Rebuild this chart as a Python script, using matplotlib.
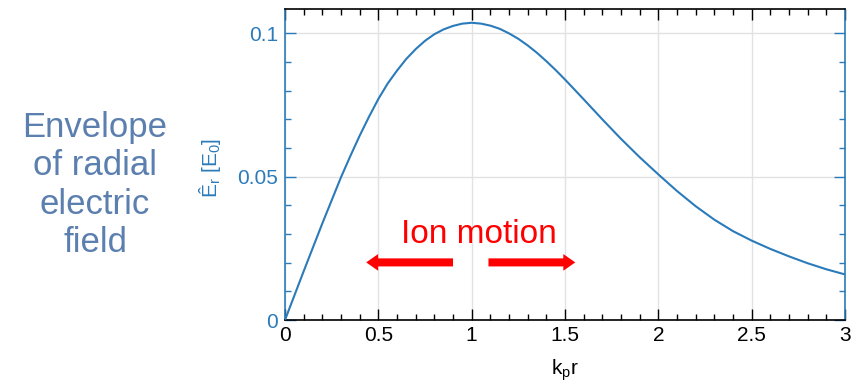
import numpy as np
import matplotlib
matplotlib.use('Agg')
import matplotlib.pyplot as plt
from matplotlib.ticker import MultipleLocator, FuncFormatter

plt.rcParams['font.family'] = ['Liberation Sans', 'DejaVu Sans']
plt.rcParams['mathtext.fontset'] = 'custom'
plt.rcParams['mathtext.rm'] = 'Liberation Sans'
plt.rcParams['mathtext.it'] = 'Liberation Sans:italic'

# values
kpr = [0, 0.1, 0.2, 0.3, 0.35, 0.4, 0.45, 0.5, 0.55, 0.6, 0.65, 0.7, 0.75,
       0.8, 0.85, 0.9, 0.95, 1.0, 1.05, 1.1, 1.15, 1.2, 1.25, 1.3, 1.35,
       1.4, 1.45, 1.5, 1.6, 1.7, 1.8, 1.9, 2.0, 2.1, 2.2, 2.3, 2.4, 2.5,
       2.6, 2.7, 2.8, 2.9, 3.0]
Er = [0, 0.0170, 0.0337, 0.0498, 0.0572, 0.0643, 0.0709, 0.0771, 0.0825,
      0.0870, 0.0911, 0.0945, 0.0974, 0.0997, 0.1014, 0.1026, 0.1034,
      0.1037, 0.1034, 0.1027, 0.1016, 0.1000, 0.0981, 0.0958, 0.0932,
      0.0903, 0.0872, 0.0839, 0.0770, 0.0700, 0.0632, 0.0568, 0.0508,
      0.0450, 0.0397, 0.0350, 0.0310, 0.0277, 0.0248, 0.0222, 0.0198,
      0.0177, 0.0159]

side_text = "Envelope\nof radial\nelectric\nfield"
arrow_label = "Ion motion"
# arrows: (tail, tip) in k_p r, at height arrow_y
arrows = [(0.90, 0.435), (1.09, 1.555)]
arrow_y = 0.0201

blue = '#2b7bba'

fig = plt.figure(figsize=(8.52, 3.85), dpi=100)
ax = fig.add_axes([0.3345, 0.1688, 0.6573, 0.8078])

ax.plot(kpr, Er, color=blue, lw=1.5, zorder=3, solid_joinstyle='round')

ax.set_xlim(0, 3)
ax.set_ylim(0, 0.1085)
ax.xaxis.set_major_locator(MultipleLocator(0.5))
ax.xaxis.set_minor_locator(MultipleLocator(0.1))
ax.yaxis.set_major_locator(MultipleLocator(0.05))
ax.yaxis.set_minor_locator(MultipleLocator(0.01))
fmt = FuncFormatter(lambda v, p: '%g' % round(v, 4))
ax.xaxis.set_major_formatter(fmt)
ax.yaxis.set_major_formatter(fmt)

ax.grid(True, which='major', color='#e2e2e2', lw=1.0, zorder=0)

ax.tick_params(axis='x', which='both', direction='in', top=True, bottom=True,
               color='black', labelsize=15, pad=4, width=1.0)
ax.tick_params(axis='y', which='both', direction='in', left=True, right=True,
               color=blue, labelcolor=blue, labelsize=15, pad=5, width=1.0)
ax.tick_params(which='major', length=8)
ax.tick_params(which='minor', length=4)

for s in ['top', 'bottom']:
    ax.spines[s].set_color('black')
    ax.spines[s].set_linewidth(1.2)
for s in ['left', 'right']:
    ax.spines[s].set_color(blue)
    ax.spines[s].set_linewidth(1.2)

ax.set_ylabel(r'Ê$_\mathrm{r}$ [E$_\mathrm{0}$]', color=blue, fontsize=15,
              va='center')
ax.yaxis.set_label_coords(-0.134, 0.49)
ax.set_xlabel(r'k$_\mathrm{p}$r', fontsize=15, va='center')
ax.xaxis.set_label_coords(0.5, -0.16)

ax.text(1.04, 0.027, arrow_label, color='red', fontsize=24,
        ha='center', va='baseline', zorder=4)
for tail, tip in arrows:
    ax.annotate('', xy=(tip, arrow_y), xytext=(tail, arrow_y),
                arrowprops=dict(arrowstyle='simple,head_length=8.6,head_width=12,tail_width=5.8',
                                mutation_scale=1, color='red', lw=0,
                                shrinkA=0, shrinkB=0), zorder=4)

fig.text(95 / 852, 1 - 185 / 385, side_text, color='#5b7fae', fontsize=25,
         ha='center', va='center', multialignment='center', linespacing=1.2)

fig.savefig('out.png', dpi=100)
